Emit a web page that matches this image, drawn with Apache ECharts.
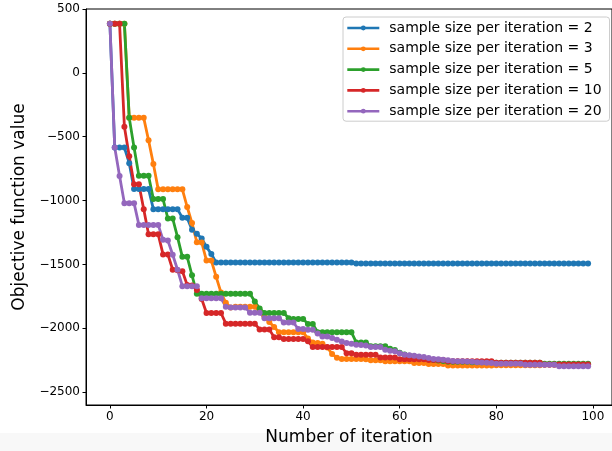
<!DOCTYPE html>
<html lang="en">

<head>
  <meta charset="UTF-8">
  <title>Objective function value</title>
  <style>
    html, body {
      margin: 0;
      padding: 0;
      background: #fff;
    }

    #chart {
      width: 612px;
      height: 451px;
    }
  </style>
  <script src="https://cdn.jsdelivr.net/npm/echarts@6/dist/echarts.min.js"></script>
</head>

<body>
  <div id="chart"></div>
  <script>
    // values, one per iteration (0..99)
    var seriesNames = [
      'sample size per iteration = 2',
      'sample size per iteration = 3',
      'sample size per iteration = 5',
      'sample size per iteration = 10',
      'sample size per iteration = 20'
    ];

    var size2 = [385, -585, -585, -585, -707, -910, -910, -910, -910, -1067,
      -1067, -1067, -1067, -1067, -1067, -1135, -1135, -1228, -1260, -1296,
      -1362, -1418, -1485, -1485, -1485, -1485, -1485, -1485, -1485, -1485,
      -1485, -1485, -1485, -1485, -1485, -1485, -1485, -1485, -1485, -1485,
      -1485, -1485, -1485, -1485, -1485, -1485, -1485, -1485, -1485, -1485,
      -1485, -1493, -1493, -1493, -1493, -1493, -1493, -1493, -1493, -1493,
      -1493, -1493, -1493, -1493, -1493, -1493, -1493, -1493, -1493, -1493,
      -1493, -1493, -1493, -1493, -1493, -1493, -1493, -1493, -1493, -1493,
      -1493, -1493, -1493, -1493, -1493, -1493, -1493, -1493, -1493, -1493,
      -1493, -1493, -1493, -1493, -1493, -1493, -1493, -1493, -1493, -1493];

    var size3 = [385, 385, 385, 385, -352, -352, -352, -352, -527, -713,
      -912, -912, -912, -912, -912, -912, -1050, -1176, -1325, -1328,
      -1469, -1469, -1597, -1720, -1800, -1836, -1830, -1830, -1830, -1830,
      -1830, -1870, -1910, -1950, -1990, -2030, -2030, -2030, -2030, -2030,
      -2030, -2080, -2110, -2115, -2120, -2150, -2200, -2230, -2240, -2240,
      -2240, -2240, -2240, -2242, -2250, -2250, -2250, -2258, -2258, -2258,
      -2258, -2258, -2258, -2272, -2272, -2272, -2280, -2280, -2280, -2280,
      -2290, -2290, -2290, -2290, -2290, -2290, -2290, -2290, -2290, -2290,
      -2288, -2288, -2288, -2288, -2288, -2288, -2288, -2288, -2288, -2288,
      -2285, -2285, -2285, -2285, -2285, -2285, -2285, -2285, -2285, -2285];

    var size5 = [385, 385, 385, 385, -352, -585, -806, -806, -806, -988,
      -988, -988, -1140, -1140, -1286, -1440, -1440, -1585, -1729, -1729,
      -1729, -1729, -1729, -1729, -1729, -1729, -1729, -1729, -1729, -1729,
      -1790, -1845, -1880, -1880, -1880, -1880, -1880, -1920, -1927, -1927,
      -1927, -1965, -1965, -2030, -2030, -2030, -2030, -2030, -2030, -2030,
      -2030, -2110, -2110, -2110, -2140, -2140, -2140, -2140, -2160, -2170,
      -2190, -2205, -2214, -2220, -2233, -2238, -2242, -2248, -2252, -2256,
      -2262, -2262, -2262, -2262, -2262, -2266, -2266, -2266, -2266, -2266,
      -2270, -2270, -2270, -2270, -2270, -2270, -2270, -2270, -2270, -2270,
      -2278, -2278, -2278, -2278, -2278, -2278, -2278, -2278, -2278, -2278];

    var size10 = [385, 385, 385, -422, -652, -872, -872, -1067, -1264, -1264,
      -1264, -1421, -1421, -1541, -1545, -1552, -1660, -1665, -1700, -1770,
      -1880, -1880, -1880, -1880, -1963, -1963, -1963, -1963, -1963, -1963,
      -1963, -2008, -2008, -2008, -2070, -2070, -2084, -2084, -2084, -2084,
      -2084, -2100, -2146, -2146, -2146, -2146, -2146, -2146, -2146, -2195,
      -2195, -2207, -2207, -2207, -2207, -2207, -2228, -2228, -2228, -2228,
      -2242, -2242, -2242, -2242, -2242, -2242, -2248, -2248, -2248, -2248,
      -2258, -2258, -2258, -2258, -2258, -2258, -2258, -2258, -2258, -2258,
      -2270, -2270, -2270, -2270, -2270, -2270, -2270, -2270, -2270, -2270,
      -2283, -2283, -2283, -2283, -2283, -2283, -2283, -2283, -2283, -2283];

    var size20 = [385, -585, -808, -1020, -1020, -1020, -1190, -1190, -1190, -1190,
      -1190, -1307, -1312, -1424, -1541, -1670, -1670, -1670, -1670, -1765,
      -1765, -1765, -1765, -1765, -1830, -1836, -1836, -1836, -1836, -1877,
      -1877, -1877, -1920, -1920, -1920, -1920, -1954, -1954, -1954, -2005,
      -2005, -2011, -2011, -2040, -2063, -2063, -2075, -2089, -2102, -2115,
      -2120, -2128, -2130, -2135, -2145, -2145, -2145, -2167, -2175, -2180,
      -2195, -2207, -2210, -2215, -2220, -2225, -2232, -2240, -2242, -2245,
      -2250, -2255, -2258, -2258, -2260, -2262, -2265, -2268, -2270, -2272,
      -2278, -2278, -2278, -2278, -2278, -2278, -2285, -2285, -2285, -2285,
      -2285, -2285, -2285, -2296, -2296, -2296, -2296, -2296, -2296, -2296];

    var xTicks = [0, 20, 40, 60, 80, 100];
    var yTicks = [-2500, -2000, -1500, -1000, -500, 0, 500];

    var colors = ['#1f77b4', '#ff7f0e', '#2ca02c', '#d62728', '#9467bd'];
    var allData = [size2, size3, size5, size10, size20];

    function minusSign(v) {
      return String(v).replace('-', '\u2212');
    }

    var chart = echarts.init(document.getElementById('chart'), null, { renderer: 'canvas' });

    var series = allData.map(function (values, k) {
      return {
        name: seriesNames[k],
        type: 'line',
        data: values.map(function (v, i) { return [i, v]; }),
        symbol: 'circle',
        symbolSize: 6,
        showAllSymbol: true,
        color: colors[k],
        lineStyle: { width: 2.8, color: colors[k] },
        itemStyle: { color: colors[k] },
        emphasis: { disabled: true },
        animation: false
      };
    });

    var option = {
      backgroundColor: '#fff',
      textStyle: { fontFamily: 'DejaVu Sans' },
      graphic: [{
        type: 'rect',
        z: -10,
        shape: { x: 0, y: 433, width: 612, height: 18 },
        style: { fill: '#f8f8f8' },
        silent: true
      }],
      grid: {
        left: 86,
        right: -5,
        top: 9,
        bottom: 45,
        show: true,
        borderColor: '#000',
        borderWidth: 1,
        backgroundColor: 'transparent'
      },
      legend: {
        orient: 'vertical',
        left: 343,
        top: 17,
        itemWidth: 32,
        itemHeight: 6,
        itemGap: 6.8,
        padding: [4, 8, 3, 3],
        backgroundColor: '#fff',
        borderColor: '#ccc',
        borderWidth: 1,
        borderRadius: 3,
        itemStyle: { borderWidth: 0 },
        lineStyle: { width: 2.6 },
        textStyle: {
          fontFamily: 'DejaVu Sans',
          fontSize: 14,
          lineHeight: 14,
          color: '#000',
          padding: [0, 0, 0, 5]
        },
        data: seriesNames
      },
      xAxis: {
        type: 'value',
        min: -4.95,
        max: 103.95,
        name: 'Number of iteration',
        nameLocation: 'middle',
        nameGap: 24,
        nameTextStyle: { fontSize: 17, color: '#000', fontFamily: 'DejaVu Sans' },
        splitLine: { show: false },
        axisLine: { show: true, onZero: false, lineStyle: { color: '#000', width: 1 } },
        axisTick: {
          show: true,
          length: 3.5,
          customValues: xTicks,
          lineStyle: { color: '#000' }
        },
        axisLabel: {
          customValues: xTicks,
          fontSize: 12,
          color: '#000',
          margin: 6,
          formatter: minusSign
        }
      },
      yAxis: {
        type: 'value',
        min: -2600,
        max: 500,
        name: 'Objective function value',
        nameLocation: 'middle',
        nameGap: 58,
        nameTextStyle: { fontSize: 17, color: '#000', fontFamily: 'DejaVu Sans' },
        splitLine: { show: false },
        axisLine: { show: true, onZero: false, lineStyle: { color: '#000', width: 1 } },
        axisTick: {
          show: true,
          length: 3.5,
          customValues: yTicks,
          lineStyle: { color: '#000' }
        },
        axisLabel: {
          customValues: yTicks,
          fontSize: 12,
          color: '#000',
          margin: 6,
          formatter: minusSign
        }
      },
      series: series
    };

    chart.setOption(option);
  </script>
</body>

</html>
